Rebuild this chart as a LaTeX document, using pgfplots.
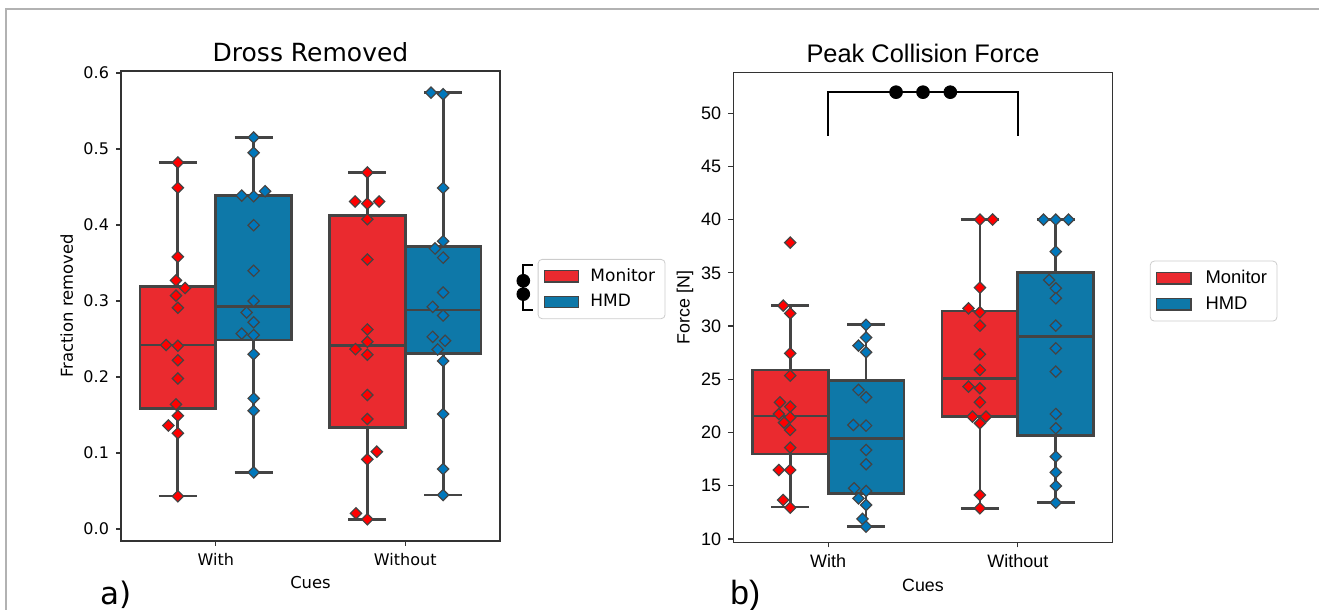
\documentclass[border=0pt]{standalone}
\usepackage{fontspec}
\setmainfont{DejaVu Sans}
\newfontfamily\arialf{Liberation Sans}
\usepackage{pgfplots}
\usepgfplotslibrary{statistics}
\pgfplotsset{compat=1.18}
\definecolor{monbox}{HTML}{EA2A2F}
\definecolor{hmdbox}{HTML}{0E78A8}
\definecolor{monpt}{HTML}{FF0000}
\definecolor{hmdpt}{HTML}{0077BB}
\definecolor{edge}{HTML}{444444}
\definecolor{axc}{HTML}{333333}

\pgfplotstableread{
x y
-0.2 0.482
-0.2 0.449
-0.2 0.358
-0.21 0.327
-0.162 0.317
-0.21 0.307
-0.2 0.291
-0.262 0.242
-0.2 0.241
-0.2 0.222
-0.2 0.198
-0.21 0.164
-0.2 0.149
-0.25 0.136
-0.2 0.126
-0.2 0.043
0.8 0.469
0.735 0.4308
0.8 0.428
0.862 0.4308
0.8 0.4075
0.8 0.3545
0.8 0.2625
0.8 0.2463
0.737 0.2366
0.8 0.2292
0.8 0.1762
0.8 0.1446
0.8 0.0916
0.85 0.1017
0.74 0.0206
0.8 0.0127
}\dmon

\pgfplotstableread{
x y
0.2 0.515
0.2 0.495
0.137 0.4386
0.2 0.4378
0.26 0.4443
0.2 0.3997
0.2 0.3396
0.2 0.300
0.163 0.2848
0.2 0.272
0.137 0.257
0.2 0.255
0.2 0.230
0.2 0.1718
0.2 0.1556
0.2 0.0745
1.136 0.574
1.2 0.572
1.2 0.4487
1.2 0.3786
1.157 0.369
1.2 0.357
1.2 0.311
1.145 0.2923
1.2 0.2809
1.145 0.2528
1.21 0.2476
1.171 0.2362
1.2 0.2209
1.2 0.1512
1.2 0.0789
1.2 0.0447
}\dhmd

\pgfplotstableread{
x y
-0.2 37.84
-0.237 31.92
-0.2 31.20
-0.2 27.44
-0.2 25.35
-0.254 22.84
-0.2 22.43
-0.26 21.74
-0.2 21.43
-0.233 20.93
-0.2 20.24
-0.2 18.58
-0.26 16.48
-0.2 16.48
-0.237 13.66
-0.2 12.94
0.8 40
0.867 40
0.8 33.61
0.74 31.67
0.8 31.30
0.8 30.04
0.8 27.35
0.8 25.88
0.74 24.31
0.8 24.16
0.8 22.84
0.761 21.49
0.832 21.49
0.8 20.87
0.8 14.13
0.8 12.88
}\fmon

\pgfplotstableread{
x y
0.2 30.11
0.2 28.92
0.16 28.16
0.2 27.54
0.16 24.0
0.2 23.31
0.133 20.71
0.2 20.65
0.2 18.36
0.2 17.02
0.137 14.76
0.2 14.51
0.16 13.82
0.2 13.19
0.181 11.88
0.2 11.16
1.135 40
1.2 40
1.267 40
1.2 37.0
1.165 34.33
1.2 33.55
1.2 32.61
1.2 30.04
1.2 27.91
1.2 25.72
1.2 21.74
1.2 20.40
1.2 17.74
1.2 16.26
1.2 14.98
1.2 13.41
}\fhmd

\pgfplotsset{
  boxbase/.style={line width=1.4pt, draw=edge, solid, mark=none, boxplot/draw direction=y,
     boxplot/every box/.append style={line width=1.4pt, draw=edge},
     boxplot/every whisker/.append style={line width=1.4pt, draw=edge},
     boxplot/every median/.append style={line width=1.4pt, draw=edge}},
  ptbase/.style={only marks, mark=square*, mark size=2pt,
     mark options={rotate=45, draw=edge, line width=0.6pt, solid, fill=#1}},
  legimg/.style={area legend, fill=#1, draw=edge, line width=0.6pt, sharp corners},
  common/.style={
    scale only axis, clip=false,
    every axis title shift=0pt,
    xmin=-0.5, xmax=1.5, xtick={0,1}, xticklabels={With,Without},
    tick pos=left, tick align=outside, major tick length=2.5pt,
    tick style={axc, line width=0.6pt},
    axis line style={axc, line width=0.6pt},
    legend cell align=left,
    /pgf/number format/assume math mode=true,
  },
}

\begin{document}
\begin{tikzpicture}
\useasboundingbox (0,0) rectangle (659.5pt,305pt);
\draw[color=black!30, line width=0.75pt] (3pt,0pt) -- (3pt,300.5pt) -- (659.5pt,300.5pt);

% ---------------- left -----------------
\begin{axis}[common,
  at={(60.5pt,34.5pt)}, anchor=south west, width=189.5pt, height=235pt,
  ymin=-0.0158, ymax=0.6025,
  ytick={0,0.1,0.2,0.3,0.4,0.5,0.6},
  yticklabel style={/pgf/number format/.cd, fixed, fixed zerofill, precision=1},
  tick label style={font=\fontsize{8}{9.6}\selectfont},
  title={Dross Removed},
  title style={at={(axis description cs:0.5,1.04)}, anchor=center, font=\fontsize{12.5}{15}\selectfont},
  xlabel={Cues},
  xlabel style={at={(axis description cs:0.5,-0.0894)}, anchor=center, font=\fontsize{8.2}{10}\selectfont},
  ylabel={Fraction removed},
  ylabel style={at={(axis description cs:-0.1433,0.5)}, anchor=center, font=\fontsize{8.2}{10}\selectfont},
  legend style={at={(axis description cs:1.0995,0.6)}, anchor=north west,
     draw=black!20, rounded corners=2pt, fill=white,
     font=\fontsize{8.5}{10}\selectfont, inner xsep=3pt, inner ysep=2.5pt, row sep=1pt,
     /tikz/every odd column/.append style={column sep=3.5pt}},
]
\addlegendimage{legimg=monbox}
\addlegendentry{Monitor}
\addlegendimage{legimg=hmdbox}
\addlegendentry{HMD}

\addplot[boxbase, fill=monbox, boxplot prepared={lower whisker=0.0434, lower quartile=0.159, median=0.242, upper quartile=0.3195, upper whisker=0.482, draw position=-0.2, box extend=0.4, whisker extend=0.2}] coordinates {};
\addplot[boxbase, fill=hmdbox, boxplot prepared={lower whisker=0.0745, lower quartile=0.2485, median=0.2923, upper quartile=0.4387, upper whisker=0.515, draw position=0.2, box extend=0.4, whisker extend=0.2}] coordinates {};
\addplot[boxbase, fill=monbox, boxplot prepared={lower whisker=0.0127, lower quartile=0.1337, median=0.2415, upper quartile=0.4128, upper whisker=0.469, draw position=0.8, box extend=0.4, whisker extend=0.2}] coordinates {};
\addplot[boxbase, fill=hmdbox, boxplot prepared={lower whisker=0.0447, lower quartile=0.231, median=0.288, upper quartile=0.372, upper whisker=0.574, draw position=1.2, box extend=0.4, whisker extend=0.2}] coordinates {};

\addplot[ptbase=monpt] table[x=x,y=y] {\dmon};
\addplot[ptbase=hmdpt] table[x=x,y=y] {\dhmd};

% significance bracket
\addplot[black, line width=1pt, mark=none] coordinates {(1.674,0.347) (1.623,0.347) (1.623,0.288) (1.674,0.288)};
\addplot[black, only marks, mark=*, mark size=3.2pt] coordinates {(1.623,0.3265) (1.623,0.309)};
\end{axis}

% ---------------- right -----------------
\begin{axis}[common,
  at={(366.65pt,33.85pt)}, anchor=south west, width=189.7pt, height=234.8pt,
  ymin=9.69, ymax=53.8,
  ytick={10,15,20,25,30,35,40,45,50},
  tick label style={font=\arialf\fontsize{9}{10.8}\selectfont},
  title={Peak Collision Force},
  title style={at={(axis description cs:0.5,1.04)}, anchor=center, font=\arialf\fontsize{12.7}{15}\selectfont},
  xlabel={Cues},
  xlabel style={at={(axis description cs:0.5,-0.091)}, anchor=center, font=\arialf\fontsize{8.9}{10.6}\selectfont},
  ylabel={Force [N]},
  ylabel style={at={(axis description cs:-0.1273,0.5)}, anchor=center, font=\arialf\fontsize{8.9}{10.6}\selectfont},
  legend style={at={(axis description cs:1.098,0.5997)}, anchor=north west,
     draw=black!20, rounded corners=2pt, fill=white,
     font=\arialf\fontsize{9.2}{11}\selectfont, inner xsep=3pt, inner ysep=2.5pt, row sep=1pt,
     /tikz/every odd column/.append style={column sep=5pt}},
]
\addlegendimage{legimg=monbox}
\addlegendentry{Monitor}
\addlegendimage{legimg=hmdbox}
\addlegendentry{HMD}

\addplot[boxbase, fill=monbox, boxplot prepared={lower whisker=13.0, lower quartile=17.99, median=21.56, upper quartile=25.88, upper whisker=31.92, draw position=-0.2, box extend=0.4, whisker extend=0.2}] coordinates {};
\addplot[boxbase, fill=hmdbox, boxplot prepared={lower whisker=11.16, lower quartile=14.29, median=19.46, upper quartile=24.88, upper whisker=30.11, draw position=0.2, box extend=0.4, whisker extend=0.2}] coordinates {};
\addplot[boxbase, fill=monbox, boxplot prepared={lower whisker=12.88, lower quartile=21.49, median=25.10, upper quartile=31.42, upper whisker=40, draw position=0.8, box extend=0.4, whisker extend=0.2}] coordinates {};
\addplot[boxbase, fill=hmdbox, boxplot prepared={lower whisker=13.41, lower quartile=19.71, median=29.01, upper quartile=35.02, upper whisker=40, draw position=1.2, box extend=0.4, whisker extend=0.2}] coordinates {};

\addplot[ptbase=monpt] table[x=x,y=y] {\fmon};
\addplot[ptbase=hmdpt] table[x=x,y=y] {\fhmd};

\addplot[black, line width=1pt, mark=none] coordinates {(0,47.86) (0,51.97) (1,51.97) (1,47.86)};
\addplot[black, only marks, mark=*, mark size=3.2pt] coordinates {(0.358,51.97) (0.5,51.97) (0.644,51.97)};
\end{axis}

\node[anchor=base west, font=\fontsize{15.5}{18}\selectfont, inner sep=0pt] at (50pt,2.5pt) {a)};
\node[anchor=base west, font=\arialf\fontsize{16.8}{19}\selectfont, inner sep=0pt] at (365pt,2.5pt) {b)};
\end{tikzpicture}
\end{document}
